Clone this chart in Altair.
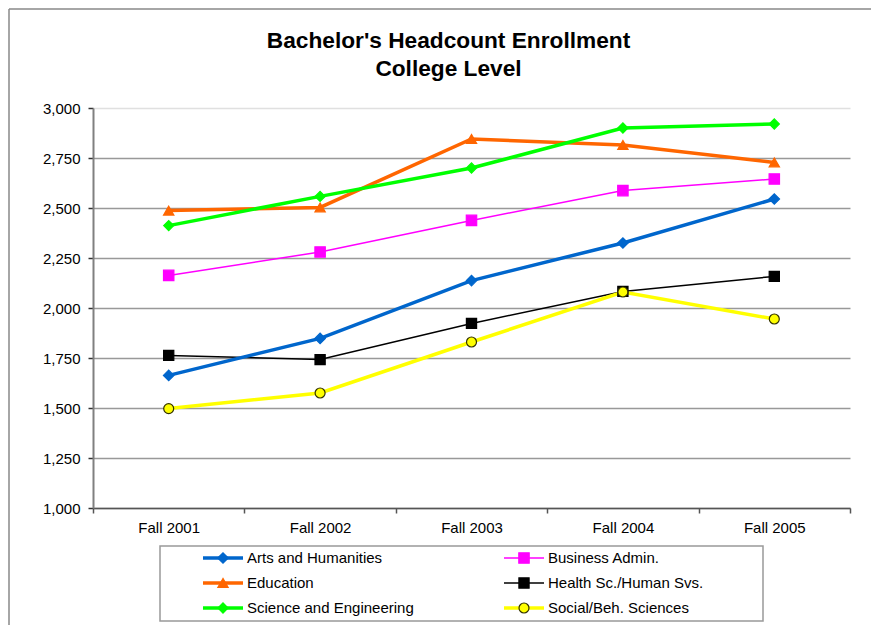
import altair as alt
import pandas as pd

FONT = "Liberation Sans"

years = ["Fall 2001", "Fall 2002", "Fall 2003", "Fall 2004", "Fall 2005"]
series = ["Arts and Humanities", "Business Admin.", "Education",
          "Health Sc./Human Svs.", "Science and Engineering", "Social/Beh. Sciences"]

arts = [1663, 1848, 2137, 2325, 2545]
business = [2163, 2280, 2438, 2587, 2645]
education = [2487, 2503, 2845, 2815, 2728]
health = [1763, 1742, 1923, 2083, 2158]
science = [2412, 2558, 2700, 2900, 2920]
social = [1497, 1575, 1830, 2080, 1945]

y_ticks = [1000, 1250, 1500, 1750, 2000, 2250, 2500, 2750, 3000]

colors = ["#0066CC", "#FF00FF", "#FF6600", "#000000", "#00FF00", "#FFFF00"]
outline = ["#0066CC", "#FF00FF", "#FF6600", "#000000", "#00FF00", "#333300"]
shapes = ["diamond", "square", "triangle-up", "square", "diamond", "circle"]
sym_size = [110, 100, 120, 100, 110, 85]
thin_series = ["Business Admin.", "Health Sc./Human Svs."]
thick_series = [s for s in series if s not in thin_series]

all_vals = [arts, business, education, health, science, social]
rows = []
for s, vals in zip(series, all_vals):
    for yr, v in zip(years, vals):
        rows.append({"year": yr, "series": s, "value": v})
df = pd.DataFrame(rows)

W, H = 757, 400

color_sc = alt.Scale(domain=series, range=colors)
stroke_sc = alt.Scale(domain=series, range=outline)
shape_sc = alt.Scale(domain=series, range=shapes)
size_sc = alt.Scale(domain=series, range=sym_size)

x_enc = alt.X("year:N", sort=years,
              scale=alt.Scale(type="band", paddingInner=0, paddingOuter=0),
              axis=alt.Axis(title=None, tickBand="extent", labelAngle=0, grid=False,
                            domainColor="#555555", domainWidth=1.5,
                            tickColor="#555555", tickWidth=1.5, tickSize=5,
                            labelFont=FONT, labelFontSize=15, labelColor="black",
                            labelPadding=7))
y_enc = alt.Y("value:Q", scale=alt.Scale(domain=[1000, 3000], nice=False, zero=False),
              axis=alt.Axis(title=None, values=y_ticks, format=",.0f", grid=True,
                            gridColor={"condition": {"test": "datum.value === 3000", "value": "#e0e0e0"},
                                       "value": "#999999"},
                            gridWidth=1.5,
                            domainColor="#808080", domainWidth=2,
                            tickColor="#333333", tickWidth=1.5, tickSize=5,
                            labelFont=FONT, labelFontSize=15, labelColor="black",
                            labelPadding=8))

def line_layer(names, width):
    return alt.Chart(df).transform_filter(
        alt.FieldOneOfPredicate(field="series", oneOf=names)
    ).mark_line(strokeWidth=width).encode(
        x=x_enc, y=y_enc,
        color=alt.Color("series:N", scale=color_sc, legend=None),
    )

thick_lines = line_layer(thick_series, 3.5)
thin_lines = line_layer(thin_series, 1.5)

points = alt.Chart(df).mark_point(filled=True, opacity=1, strokeWidth=1.2).encode(
    x=x_enc, y=y_enc,
    fill=alt.Fill("series:N", scale=color_sc, legend=None),
    stroke=alt.Stroke("series:N", scale=stroke_sc, legend=None),
    shape=alt.Shape("series:N", scale=shape_sc, legend=None),
    size=alt.Size("series:N", scale=size_sc, legend=None),
)

top = alt.layer(thin_lines, thick_lines, points).properties(
    width=W, height=H,
    title=alt.Title(["Bachelor's Headcount Enrollment", "College Level"],
                    font=FONT, fontSize=22.7, fontWeight="bold", color="black",
                    lineHeight=28, offset=20, anchor="middle", dx=-23),
)

# ---- legend panel (its own scales) ----
LW, LH = W, 75
leg_rows = []
for i, s in enumerate(series):
    col, row = i % 2, i // 2
    x1 = 110 + col * 301
    leg_rows.append({"series": s, "x1": x1, "x2": x1 + 40, "xm": x1 + 20,
                     "xt": x1 + 44, "y": 12 + row * 25})
leg = pd.DataFrame(leg_rows)
box = pd.DataFrame([{"x": 67, "x2": 670, "y": 0, "y2": LH}])

lx = alt.Scale(domain=[0, LW])
ly = alt.Scale(domain=[0, LH], reverse=True)

box_mark = alt.Chart(box).mark_rect(fill="white", stroke="#999999", strokeWidth=1.5).encode(
    x=alt.X("x:Q", scale=lx, axis=None), x2="x2:Q",
    y=alt.Y("y:Q", scale=ly, axis=None), y2="y2:Q")

def leg_line_layer(names, width):
    return alt.Chart(leg).transform_filter(
        alt.FieldOneOfPredicate(field="series", oneOf=names)
    ).mark_rule(strokeWidth=width).encode(
        x=alt.X("x1:Q", scale=lx, axis=None), x2="x2:Q",
        y=alt.Y("y:Q", scale=ly, axis=None),
        color=alt.Color("series:N", scale=color_sc, legend=None))

leg_pts = alt.Chart(leg).mark_point(filled=True, opacity=1, strokeWidth=1.2).encode(
    x=alt.X("xm:Q", scale=lx, axis=None),
    y=alt.Y("y:Q", scale=ly, axis=None),
    fill=alt.Fill("series:N", scale=color_sc, legend=None),
    stroke=alt.Stroke("series:N", scale=stroke_sc, legend=None),
    shape=alt.Shape("series:N", scale=shape_sc, legend=None),
    size=alt.Size("series:N", scale=size_sc, legend=None))
leg_text = alt.Chart(leg).mark_text(align="left", baseline="middle", font=FONT,
                                    fontSize=15, color="black").encode(
    x=alt.X("xt:Q", scale=lx, axis=None),
    y=alt.Y("y:Q", scale=ly, axis=None),
    text="series:N")

# outer chart-area border (top and left edges)
border_top = alt.Chart(box).mark_rule(color="#888888", strokeWidth=1.5).encode(
    x=alt.value(-84), x2=alt.value(778), y=alt.value(-537))
border_left = alt.Chart(box).mark_rule(color="#888888", strokeWidth=1.5).encode(
    x=alt.value(-84), y=alt.value(-537), y2=alt.value(LH + 8))

legend_panel = alt.layer(box_mark, leg_line_layer(thin_series, 1.5),
                         leg_line_layer(thick_series, 3.5), leg_pts, leg_text,
                         border_top, border_left).properties(width=LW, height=LH)

chart = alt.vconcat(top, legend_panel, spacing=38, bounds="flush").configure_view(
    strokeWidth=0
).properties(padding=0, background="white")

chart.save("out.html", embed_options={"renderer": "svg", "actions": False})
